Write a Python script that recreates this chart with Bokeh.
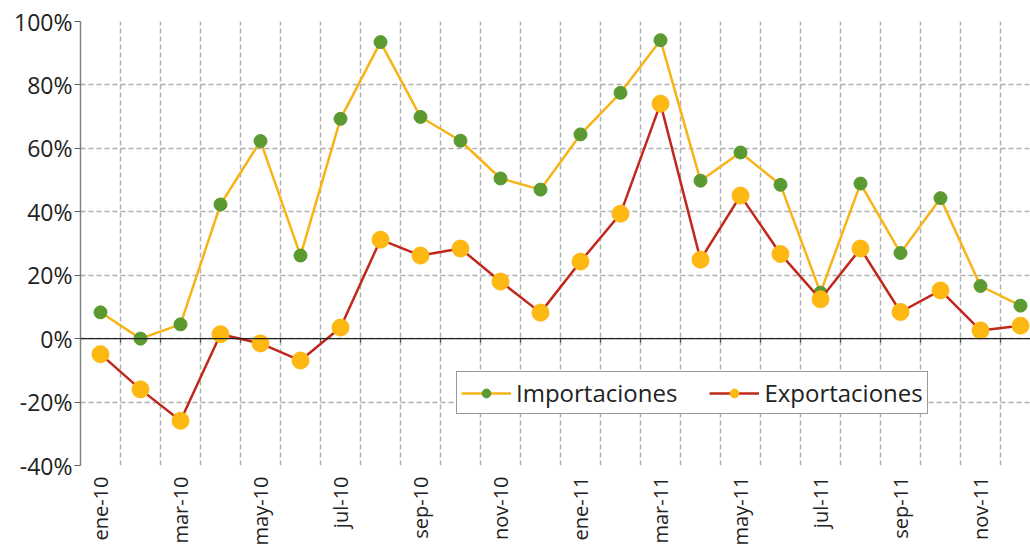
from bokeh.plotting import figure
from bokeh.models import Range1d, FixedTicker, Span, Legend, LegendItem, ColumnDataSource
from bokeh.embed import file_html
from bokeh.resources import INLINE
import math

months = ["ene-10", "feb-10", "mar-10", "abr-10", "may-10", "jun-10", "jul-10", "ago-10",
          "sep-10", "oct-10", "nov-10", "dic-10", "ene-11", "feb-11", "mar-11", "abr-11",
          "may-11", "jun-11", "jul-11", "ago-11", "sep-11", "oct-11", "nov-11", "dic-11"]
importaciones = [8.3, 0.0, 4.5, 42.3, 62.3, 26.2, 69.3, 93.5, 69.9, 62.4, 50.5, 47.0,
                 64.4, 77.5, 94.1, 49.8, 58.7, 48.5, 14.5, 48.9, 27.0, 44.3, 16.6, 10.4]
exportaciones = [-4.9, -16.0, -25.9, 1.4, -1.5, -6.9, 3.5, 31.2, 26.2, 28.4, 18.0, 8.2,
                 24.3, 39.4, 74.1, 24.9, 45.1, 26.7, 12.4, 28.4, 8.4, 15.2, 2.6, 4.1]
y_ticks = [-40, -20, 0, 20, 40, 60, 80, 100]
x_tick_idx = list(range(0, 24, 2))

FONT = "Open Sans"
x = list(range(len(months)))
src = ColumnDataSource(dict(x=x, imp=importaciones, exp=exportaciones))

p = figure(width=1030, height=548, output_backend="svg", toolbar_location=None,
           x_range=Range1d(-0.5, 23.25), y_range=Range1d(-40, 100),
           min_border_left=80, min_border_top=21, min_border_right=0, min_border_bottom=0)
p.outline_line_color = None

# grids
p.ygrid.ticker = FixedTicker(ticks=y_ticks)
p.ygrid.grid_line_color = "#b0b0b0"
p.ygrid.grid_line_dash = "5 3"
p.ygrid.grid_line_width = 1.5
p.xgrid.ticker = FixedTicker(ticks=[i + 0.5 for i in range(len(months))])
p.xgrid.grid_line_color = "#b0b0b0"
p.xgrid.grid_line_dash = "5 3"
p.xgrid.grid_line_width = 1.5

# y axis
p.yaxis.ticker = FixedTicker(ticks=y_ticks)
p.yaxis.major_label_overrides = {v: f"{v}%" for v in y_ticks}
p.yaxis.axis_line_color = "#808080"
p.yaxis.axis_line_width = 1.5
p.yaxis.major_tick_line_color = "#606060"
p.yaxis.major_tick_out = 6
p.yaxis.major_tick_in = 0
p.yaxis.minor_tick_line_color = None
p.yaxis.major_label_text_font = FONT
p.yaxis.major_label_text_font_size = "23px"
p.yaxis.major_label_text_color = "#222222"
p.yaxis.major_label_standoff = 2

# x axis
p.xaxis.ticker = FixedTicker(ticks=x_tick_idx)
p.xaxis.major_label_overrides = {i: months[i] for i in x_tick_idx}
p.xaxis.major_label_orientation = math.pi / 2
p.xaxis.axis_line_color = None
p.xaxis.major_tick_line_color = None
p.xaxis.minor_tick_line_color = None
p.xaxis.major_label_text_font = FONT
p.xaxis.major_label_text_font_size = "20px"
p.xaxis.major_label_text_color = "#222222"
p.xaxis.major_label_standoff = 5

# zero line
p.add_layout(Span(location=0, dimension="width", line_color="#222222", line_width=1.3))
bounds = [i + 0.5 for i in range(len(months) - 1)]
p.segment(x0=bounds, x1=bounds, y0=[0] * len(bounds), y1=[-1.3] * len(bounds),
          line_color="#555555", line_width=1.2)

l_imp = p.line("x", "imp", source=src, line_color="#f7b417", line_width=2.5)
m_imp = p.scatter("x", "imp", source=src, size=13, fill_color="#5b9a30", line_color="#5b9a30")
l_exp = p.line("x", "exp", source=src, line_color="#c0281c", line_width=2.5)
m_exp = p.scatter("x", "exp", source=src, size=17, fill_color="#fdb813", line_color="#fdb813")

legend = Legend(items=[LegendItem(label="Importaciones", renderers=[l_imp, m_imp]),
                       LegendItem(label="Exportaciones", renderers=[l_exp, m_exp])],
                orientation="horizontal", location=(376, 51),
                label_text_font=FONT, label_text_font_size="24px", label_text_color="#222222",
                glyph_width=50, glyph_height=22, spacing=32, padding=4, margin=0,
                label_standoff=5, label_height=22,
                border_line_color="#333333", border_line_width=1.3,
                background_fill_color="white", background_fill_alpha=1.0)
p.add_layout(legend, "center")

open("out.html", "w").write(file_html(p, INLINE))
